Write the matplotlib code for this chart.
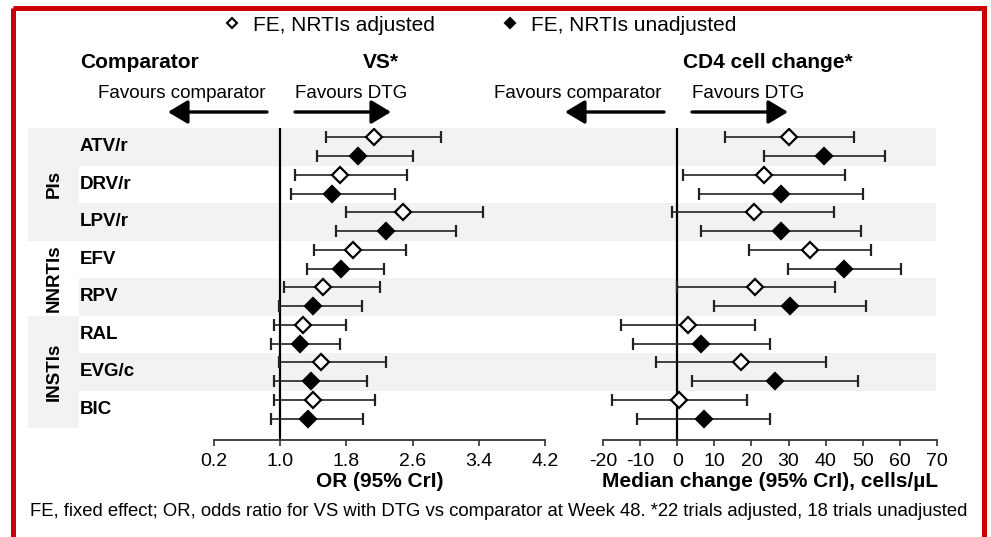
import matplotlib
matplotlib.use("Agg")
import matplotlib.pyplot as plt
from matplotlib.lines import Line2D
from matplotlib.patches import Rectangle
import numpy as np

plt.rcParams['font.family'] = ['Liberation Sans', 'DejaVu Sans']
plt.rcParams['axes.unicode_minus'] = False

# dados
comparadores = ['ATV/r', 'DRV/r', 'LPV/r', 'EFV', 'RPV', 'RAL', 'EVG/c', 'BIC']
grupos = ['PIs', 'NNRTIs', 'INSTIs']
grupo_linhas = [(0, 2), (3, 4), (5, 7)]

# VS: odds ratio (ajustado / nao ajustado)
or_aj = [2.13, 1.72, 2.48, 1.88, 1.52, 1.28, 1.49, 1.40]
or_aj_lo = [1.55, 1.18, 1.79, 1.41, 1.05, 0.93, 0.99, 0.93]
or_aj_hi = [2.94, 2.53, 3.45, 2.52, 2.20, 1.80, 2.28, 2.15]
or_na = [1.94, 1.63, 2.28, 1.74, 1.40, 1.24, 1.37, 1.33]
or_na_lo = [1.45, 1.13, 1.68, 1.32, 0.98, 0.89, 0.92, 0.89]
or_na_hi = [2.60, 2.39, 3.12, 2.26, 1.99, 1.72, 2.05, 2.00]

# CD4: mudanca mediana (cells/uL)
cd4_aj = [30.1, 23.4, 20.6, 35.7, 21.0, 2.8, 17.2, 0.5]
cd4_aj_lo = [12.8, 1.5, -1.4, 19.4, 0.0, -15.2, -5.8, -17.5]
cd4_aj_hi = [47.7, 45.3, 42.3, 52.2, 42.4, 21.0, 40.2, 18.9]
cd4_na = [39.5, 28.0, 28.0, 45.0, 30.3, 6.5, 26.4, 7.1]
cd4_na_lo = [23.3, 6.0, 6.4, 29.8, 9.8, -11.8, 4.0, -10.8]
cd4_na_hi = [55.9, 50.0, 49.6, 60.3, 51.0, 24.9, 48.7, 25.1]

or_ticks = [0.2, 1.0, 1.8, 2.6, 3.4, 4.2]
cd4_ticks = list(range(-20, 71, 10))

W, H = 991, 537
fig = plt.figure(figsize=(W / 100, H / 100), dpi=100)


def caixa(x0, y0, x1, y1):
    # converte pixels (topo-esquerda) para coordenadas da figura
    return [x0 / W, 1 - y1 / H, (x1 - x0) / W, (y1 - y0) / H]


TOPO, BASE = 128, 440
ylim = (7.82, -0.5)
cinza = '#f2f2f2'

# fundo com faixas
ax_bg = fig.add_axes(caixa(28, TOPO, 936, BASE), zorder=0)
ax_bg.set_xlim(28, 936)
ax_bg.set_ylim(*ylim)
ax_bg.axis('off')
n = len(comparadores)
for i in range(0, n, 2):
    ax_bg.add_patch(Rectangle((79, i - 0.5), 936 - 79, 1, color=cinza, lw=0))
for (a, b), g in zip(grupo_linhas, grupos):
    if g != 'NNRTIs':
        ax_bg.add_patch(Rectangle((28, a - 0.5), 79 - 28, b - a + 1, color=cinza, lw=0))
    ax_bg.text(54, (a + b) / 2, g, rotation=90, ha='center', va='center',
               fontsize=13.5, fontweight='bold')
for i, c in enumerate(comparadores):
    ax_bg.text(80, i, c, ha='left', va='center', fontsize=13.5, fontweight='bold')


def painel(ax, est_a, lo_a, hi_a, est_n, lo_n, hi_n, ref, ticks, xlabel):
    y = np.arange(n)
    ax.set_facecolor('none')
    ax.axvline(ref, color='black', lw=1.6, zorder=2)
    erro_a = [np.array(est_a) - np.array(lo_a), np.array(hi_a) - np.array(est_a)]
    erro_n = [np.array(est_n) - np.array(lo_n), np.array(hi_n) - np.array(est_n)]
    ax.errorbar(est_a, y - 0.25, xerr=erro_a, fmt='D', ms=8.5, mfc='white',
                mec='black', mew=1.6, ecolor='#222222', elinewidth=1.2,
                capsize=4.5, capthick=1.2, zorder=3)
    ax.errorbar(est_n, y + 0.25, xerr=erro_n, fmt='D', ms=8.5, mfc='black',
                mec='black', mew=1.6, ecolor='#222222', elinewidth=1.2,
                capsize=4.5, capthick=1.2, zorder=3)
    ax.set_ylim(*ylim)
    ax.set_xlim(ticks[0], ticks[-1])
    ax.set_xticks(ticks)
    ax.set_yticks([])
    for s in ['top', 'right', 'left']:
        ax.spines[s].set_visible(False)
    ax.spines['bottom'].set_linewidth(1.3)
    ax.spines['bottom'].set_color('#333333')
    ax.tick_params(axis='x', direction='out', length=4.5, width=1.2,
                   color='#333333', labelsize=14, pad=5)
    ax.set_xlabel(xlabel, fontsize=15, fontweight='bold', labelpad=1)


ax1 = fig.add_axes(caixa(214, TOPO, 545, BASE), zorder=1)
painel(ax1, or_aj, or_aj_lo, or_aj_hi, or_na, or_na_lo, or_na_hi, 1.0,
       or_ticks, 'OR (95% CrI)')
ax1.set_xticklabels([f'{t:.1f}' for t in or_ticks])

ax2 = fig.add_axes(caixa(603, TOPO, 937, BASE), zorder=1)
painel(ax2, cd4_aj, cd4_aj_lo, cd4_aj_hi, cd4_na, cd4_na_lo, cd4_na_hi, 0,
       cd4_ticks, 'Median change (95% CrI), cells/µL')

# camada de texto, setas e moldura em pixels
ov = fig.add_axes([0, 0, 1, 1], zorder=5)
ov.set_xlim(0, W)
ov.set_ylim(H, 0)
ov.axis('off')

ov.text(80, 62, 'Comparator', fontsize=15, fontweight='bold', ha='left', va='center')
ov.text(381, 62, 'VS*', fontsize=15, fontweight='bold', ha='center', va='center')
ov.text(768, 62, 'CD4 cell change*', fontsize=15, fontweight='bold', ha='center', va='center')

for x_fim, x_ini in [(265, 295), (662, 692)]:
    ov.text(x_fim, 93, 'Favours comparator', fontsize=13.5, ha='right', va='center')
    ov.text(x_ini, 93, 'Favours DTG', fontsize=13.5, ha='left', va='center')
    estilo = dict(arrowstyle='-|>,head_length=0.75,head_width=0.45',
                  color='black', lw=2.4, mutation_scale=16, shrinkA=0, shrinkB=0)
    ov.annotate('', xy=(x_fim - 97, 112), xytext=(x_fim + 2, 112), arrowprops=estilo)
    ov.annotate('', xy=(x_ini + 96, 112), xytext=(x_ini, 112), arrowprops=estilo)

ov.text(499, 512, 'FE, fixed effect; OR, odds ratio for VS with DTG vs comparator at '
        'Week 48. *22 trials adjusted, 18 trials unadjusted',
        fontsize=13.3, ha='center', va='center')

ov.add_patch(Rectangle((12.5, 7.5), 984 - 12.5, 560, fill=False,
                       edgecolor='#cc0000', lw=3.6, clip_on=False))

leg_h = [Line2D([], [], ls='none', marker='D', ms=5.5, mfc='white', mec='black', mew=1.5),
         Line2D([], [], ls='none', marker='D', ms=5.5, mfc='black', mec='black', mew=1.5)]
fig.legend(leg_h, ['FE, NRTIs adjusted', 'FE, NRTIs unadjusted'], ncol=2,
           loc='center', bbox_to_anchor=(480 / W, 1 - 25 / H), frameon=False,
           fontsize=15, handlelength=0.8, handletextpad=0.6, columnspacing=3.2)

fig.savefig('out.png', dpi=100)
